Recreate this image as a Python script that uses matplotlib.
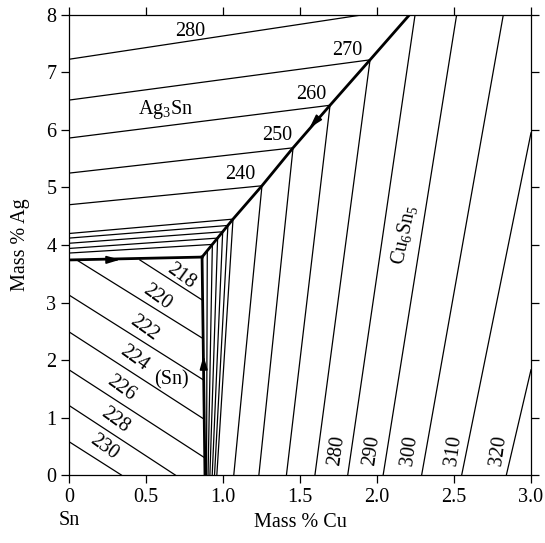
import numpy as np
import matplotlib.pyplot as plt

plt.rcParams['font.family'] = ['Liberation Serif', 'DejaVu Serif']
plt.rcParams['mathtext.fontset'] = 'custom'
plt.rcParams['mathtext.rm'] = 'Liberation Serif'
plt.rcParams['font.size'] = 14.5

# eutectic valleys (mass % Cu, mass % Ag)
valley_snag_cu = [0.0, 0.864]
valley_snag_ag = [3.74, 3.79]
valley_sncu_cu = [0.883, 0.864]
valley_sncu_ag = [0.0, 3.79]
valley_main_cu = [2.21, 1.955, 1.695, 1.455, 1.253, 1.065, 0.864]
valley_main_ag = [8.0, 7.22, 6.43, 5.69, 5.03, 4.45, 3.79]

# Ag3Sn field isotherms
ag3sn_T = [280, 270, 260, 250, 240]
ag3sn_cu = [[0, 1.90], [0, 1.955], [0, 1.695], [0, 1.455], [0, 1.253]]
ag3sn_ag = [[7.23, 8.0], [6.52, 7.22], [5.86, 6.43], [5.25, 5.69], [4.70, 5.03]]

# closely spaced isotherms near the ternary eutectic
near_e_cu = [0.898, 0.931, 0.965, 0.998, 1.032, 1.065]
near_e_ag = [3.90, 4.01, 4.12, 4.23, 4.34, 4.45]
ag3sn_thin_left = [3.86, 3.94, 4.03, 4.12, 4.20]
cu6sn5_thin_bottom = [0.893, 0.903, 0.915, 0.93, 0.945, 0.96]

# Cu6Sn5 field isotherms
cu6sn5_T = [240, 250, 260, 270, 280, 290, 300, 310, 320]
cu6sn5_bottom = [1.07, 1.233, 1.412, 1.597, 1.81, 2.04, 2.29, 2.55, 2.84]
cu6sn5_end_cu = [1.253, 1.455, 1.695, 1.955, 2.247, 2.517, 2.82, 3.0, 3.0]
cu6sn5_end_ag = [5.03, 5.69, 6.43, 7.22, 8.0, 8.0, 8.0, 5.95, 1.83]

# (Sn) field isotherms
sn_T = [218, 220, 222, 224, 226, 228, 230]
sn_cu0 = [0.46, 0.05, 0, 0, 0, 0, 0]
sn_ag0 = [3.74, 3.74, 3.13, 2.49, 1.83, 1.21, 0.58]
sn_cu1 = [0.867, 0.872, 0.875, 0.878, 0.881, 0.69, 0.34]
sn_ag1 = [3.04, 2.37, 1.65, 0.97, 0.30, 0, 0]

fig = plt.figure(figsize=(5.45, 5.43), dpi=100)
ax = fig.add_axes([0.1266, 0.1252, 0.8477, 0.8472])
lw = 0.9
k = 'black'

for cu, ag in zip(ag3sn_cu, ag3sn_ag):
    ax.plot(cu, ag, color=k, lw=lw)
for i, a0 in enumerate(ag3sn_thin_left):
    ax.plot([0, near_e_cu[i + 1]], [a0, near_e_ag[i + 1]], color=k, lw=lw)
for b, c, a in zip(cu6sn5_thin_bottom, near_e_cu, near_e_ag):
    ax.plot([b, c], [0, a], color=k, lw=lw)
for b, c, a in zip(cu6sn5_bottom, cu6sn5_end_cu, cu6sn5_end_ag):
    ax.plot([b, c], [0, a], color=k, lw=lw)
for x0, y0, x1, y1 in zip(sn_cu0, sn_ag0, sn_cu1, sn_ag1):
    ax.plot([x0, x1], [y0, y1], color=k, lw=lw)

ax.plot(valley_snag_cu, valley_snag_ag, color=k, lw=2)
ax.plot(valley_sncu_cu, valley_sncu_ag, color=k, lw=2)
ax.plot(valley_main_cu, valley_main_ag, color=k, lw=2)

# small arrowheads on the valleys
arr = dict(arrowstyle='-|>,head_length=0.55,head_width=0.16', color=k, lw=1.2)
ax.annotate('', xy=(0.35, 3.745), xytext=(0.28, 3.743), arrowprops=arr)
ax.annotate('', xy=(0.873, 2.12), xytext=(0.874, 1.95), arrowprops=arr)
ax.annotate('', xy=(1.55, 6.0), xytext=(1.6, 6.15), arrowprops=arr)

# labels
for t, x, y in zip(ag3sn_T, [0.79, 1.81, 1.57, 1.35, 1.11], [7.72, 7.39, 6.61, 5.91, 5.22]):
    ax.text(x, y, str(t), ha='center', va='center')
for t, x in zip(cu6sn5_T[4:], [1.74, 1.966, 2.21, 2.5, 2.79]):
    ax.text(x, 0.42, str(t), ha='center', va='center', rotation=82)
sn_lx = [0.73, 0.57, 0.49, 0.42, 0.34, 0.30, 0.23]
sn_ly = [3.45, 3.10, 2.55, 2.03, 1.51, 0.96, 0.49]
for t, x, y in zip(sn_T, sn_lx, sn_ly):
    ax.text(x, y, str(t), ha='center', va='center', rotation=-36)
ax.text(0.63, 6.36, r'Ag$_\mathregular{3}$Sn', ha='center', va='center')
ax.text(2.18, 4.17, r'Cu$_\mathregular{6}$Sn$_\mathregular{5}$', ha='center', va='center', rotation=78)
ax.text(0.665, 1.65, '(Sn)', ha='center', va='center')

ax.set_xlim(0, 3.0)
ax.set_ylim(0, 8)
ax.set_xticks(np.arange(0, 3.01, 0.5))
ax.set_xticklabels(['0', '0.5', '1.0', '1.5', '2.0', '2.5', '3.0'])
ax.set_yticks(range(9))
ax.tick_params(direction='out', length=6, width=0.9, top=True, right=True, pad=3)
for s in ax.spines.values():
    s.set_linewidth(0.9)
ax.set_xlabel('Mass % Cu', labelpad=5)
ax.set_ylabel('Mass % Ag', labelpad=12)
ax.annotate('Sn', xy=(0, -0.098), xycoords=('data', 'axes fraction'), ha='center', va='center')

fig.savefig('out.png', dpi=100)
